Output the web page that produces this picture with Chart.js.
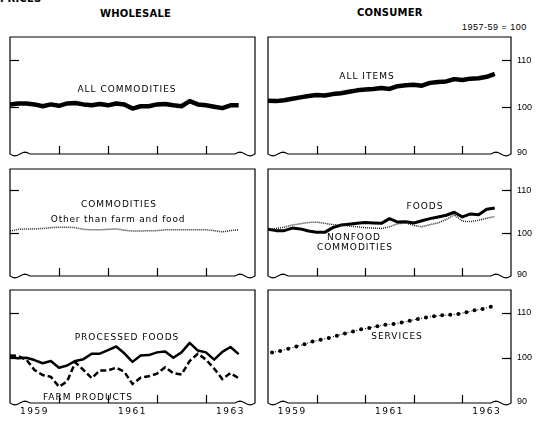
<!DOCTYPE html>
<html>
<head>
<meta charset="utf-8">
<script src="https://cdn.jsdelivr.net/npm/chart.js@4.4.1/dist/chart.umd.min.js"></script>
<style>
  body { margin: 0; background: #fff; width: 539px; height: 425px; overflow: hidden; position: relative; font-family: "DejaVu Sans", sans-serif; color: #000; }
  canvas { position: absolute; left: 0; top: 0; }
  .hd { position: absolute; font-weight: bold; font-size: 10px; letter-spacing: 0.2px; white-space: nowrap; }
  .base { position: absolute; font-size: 9px; letter-spacing: 0.5px; font-family: "Liberation Sans", sans-serif; white-space: nowrap; }
</style>
</head>
<body>
<div class="hd" style="left:0px; top:-7px;">PRICES</div>
<div class="hd" style="left:100px; top:8px;">WHOLESALE</div>
<div class="hd" style="left:357px; top:7px;">CONSUMER</div>
<div class="base" style="left:462px; top:22px;">1957-59 = 100</div>

<canvas id="c1" width="539" height="425"></canvas>
<canvas id="c2" width="539" height="425"></canvas>
<canvas id="c3" width="539" height="425"></canvas>
<canvas id="c4" width="539" height="425"></canvas>
<canvas id="c5" width="539" height="425"></canvas>
<canvas id="c6" width="539" height="425"></canvas>

<script>
// months counted from Jan 1959
const months = [0, 2, 4, 6, 8, 10, 12, 14, 16, 18, 20, 22, 24, 26, 28, 30, 32, 34, 36, 38, 40, 42, 44, 46, 48, 50, 52, 54, 56];
const servicesMonths = [1, 3, 5, 7, 9, 11, 13, 15, 17, 19, 21, 23, 25, 27, 29, 31, 33, 35, 37, 39, 41, 43, 45, 47, 49, 51, 53, 55];

// wholesale
const allCommodities = [100.6, 100.8, 100.8, 100.6, 100.2, 100.6, 100.3, 100.8, 100.9, 100.6, 100.4, 100.7, 100.4, 100.8, 100.6, 99.7, 100.2, 100.2, 100.6, 100.7, 100.4, 100.2, 101.3, 100.6, 100.4, 100.1, 99.8, 100.4, 100.4];
const otherCommodities = [100.5, 100.9, 101.0, 101.0, 101.1, 101.3, 101.4, 101.4, 101.3, 100.9, 100.8, 100.8, 100.9, 101.0, 100.7, 100.5, 100.5, 100.6, 100.6, 100.8, 100.8, 100.8, 100.8, 100.8, 100.8, 100.6, 100.3, 100.6, 100.8];
const processedFoods = [100.1, 99.9, 100.0, 99.5, 98.8, 99.3, 97.8, 98.3, 99.3, 99.7, 100.9, 100.9, 101.7, 102.5, 101.0, 99.1, 100.5, 100.6, 101.2, 101.4, 100.0, 101.2, 103.3, 101.6, 101.2, 99.6, 101.3, 102.4, 100.8];
const farmProducts = [100.5, 100.4, 99.6, 97.3, 96.2, 95.8, 93.6, 94.8, 99.0, 97.3, 95.5, 97.2, 97.2, 97.8, 96.9, 94.2, 95.6, 95.9, 96.5, 97.9, 96.6, 96.3, 99.3, 100.9, 99.6, 97.6, 95.3, 96.6, 95.5];

// consumer
const allItems = [101.4, 101.3, 101.5, 101.8, 102.1, 102.4, 102.6, 102.5, 102.8, 103.0, 103.3, 103.6, 103.8, 103.9, 104.1, 103.9, 104.5, 104.7, 104.8, 104.6, 105.2, 105.4, 105.5, 106.0, 105.8, 106.1, 106.2, 106.5, 107.1];
const foods = [100.9, 100.6, 100.6, 101.2, 101.0, 100.5, 100.2, 100.2, 101.3, 101.9, 102.1, 102.3, 102.5, 102.4, 102.3, 103.4, 102.6, 102.7, 102.4, 102.9, 103.4, 103.8, 104.2, 104.9, 103.8, 104.5, 104.3, 105.6, 105.9];
const nonfoodCommodities = [100.9, 101.1, 101.4, 101.9, 102.2, 102.5, 102.6, 102.3, 102.0, 101.9, 101.7, 101.5, 101.3, 101.2, 101.1, 101.5, 102.2, 102.4, 101.8, 101.5, 102.0, 102.4, 103.2, 104.3, 102.8, 102.7, 103.0, 103.5, 103.9];
const services = [101.2, 101.5, 102.0, 102.5, 103.0, 103.6, 104.0, 104.4, 104.9, 105.4, 105.8, 106.3, 106.6, 107.0, 107.3, 107.5, 107.8, 108.2, 108.6, 108.9, 109.2, 109.4, 109.5, 109.7, 110.1, 110.5, 110.8, 111.3];

// axis stuff
const yearTicks = [12, 24, 36, 48];
const yearLabels = ['1959', '1961', '1963'];
const yearLabelPos = [6, 30, 54];
const valueTicks = [110, 100, 90];

const W = 539, H = 425;
const cols = { L: { x: 10, w: 245 }, R: { x: 268, w: 243 } };
const rows = [{ y: 37, h: 117 }, { y: 169, h: 107 }, { y: 290, h: 113 }];

function pts(xs, ys) {
  return xs.map((m, i) => ({ x: m, y: ys[i] }));
}

// frame, wavy break, inside ticks, labels
const panelPlugin = {
  id: 'panel',
  afterDraw(chart, args, o) {
    const ctx = chart.ctx;
    const a = chart.chartArea;
    const xs = chart.scales.x, ys = chart.scales.y;
    ctx.save();
    ctx.strokeStyle = '#000';
    ctx.lineWidth = 1.2;

    // box with wavy bottom ends
    ctx.beginPath();
    ctx.moveTo(a.left + 20, a.bottom);
    ctx.lineTo(a.right - 20, a.bottom);
    for (let t = 0; t <= 20; t++) {
      ctx.lineTo(a.right - 20 + t, a.bottom - 1.8 * Math.sin(t / 10 * Math.PI));
    }
    ctx.lineTo(a.right, a.top);
    ctx.lineTo(a.left, a.top);
    ctx.lineTo(a.left, a.bottom);
    for (let t = 0; t <= 20; t++) {
      ctx.lineTo(a.left + t, a.bottom + 1.8 * Math.sin(t / 10 * Math.PI));
    }
    ctx.stroke();

    // year ticks on bottom, inside
    yearTicks.forEach(m => {
      const px = Math.round(xs.getPixelForValue(m)) + 0.5;
      ctx.beginPath();
      ctx.moveTo(px, a.bottom);
      ctx.lineTo(px, a.bottom - 8);
      ctx.stroke();
    });

    // value ticks on the side
    [110, 100].forEach(v => {
      const py = Math.round(ys.getPixelForValue(v)) + 0.5;
      ctx.beginPath();
      if (o.side === 'right') {
        ctx.moveTo(a.right - 9, py);
        ctx.lineTo(a.right, py);
      } else {
        ctx.moveTo(a.left, py);
        ctx.lineTo(a.left + 9, py);
      }
      ctx.stroke();
    });

    ctx.fillStyle = '#000';
    if (o.side === 'right') {
      ctx.font = '9px "Liberation Sans"';
      ctx.textAlign = 'left';
      ctx.textBaseline = 'middle';
      valueTicks.forEach(v => {
        ctx.fillText(String(v), a.right + 6, ys.getPixelForValue(v) - (v === 90 ? 1 : 0));
      });
    }
    if (o.yearLabels) {
      ctx.font = '9px "DejaVu Sans"';
      ctx.letterSpacing = '1.5px';
      ctx.textAlign = 'center';
      ctx.textBaseline = 'middle';
      yearLabels.forEach((t, i) => {
        ctx.fillText(t, xs.getPixelForValue(yearLabelPos[i]), a.bottom + 9);
      });
    }

    // series names
    ctx.textAlign = 'center';
    ctx.textBaseline = 'middle';
    (o.notes || []).forEach(n => {
      ctx.font = '9px "DejaVu Sans"';
      ctx.letterSpacing = n.sp || '1px';
      ctx.fillText(n.text, n.x, n.y);
    });
    ctx.restore();
  }
};

function makePanel(id, col, row, datasets, opts) {
  const c = cols[col], r = rows[row];
  new Chart(document.getElementById(id), {
    type: 'line',
    data: { datasets: datasets },
    options: {
      responsive: false,
      animation: false,
      events: [],
      layout: { padding: { left: c.x, top: r.y, right: W - c.x - c.w, bottom: H - r.y - r.h } },
      scales: {
        x: { type: 'linear', min: 0, max: 60, display: false },
        y: { min: 90, max: 115, display: false }
      },
      elements: { point: { radius: 0 }, line: { tension: 0 } },
      plugins: { legend: { display: false }, tooltip: { enabled: false }, panel: opts }
    },
    plugins: [panelPlugin]
  });
}

makePanel('c1', 'L', 0, [
  { data: pts(months, allCommodities), borderColor: '#000', borderWidth: 4.5, borderJoinStyle: 'round' }
], { side: 'left', notes: [{ text: 'ALL COMMODITIES', x: 127, y: 90 }] });

makePanel('c2', 'R', 0, [
  { data: pts(months, allItems), borderColor: '#000', borderWidth: 4.5, borderJoinStyle: 'round' }
], { side: 'right', notes: [{ text: 'ALL ITEMS', x: 367, y: 77 }] });

makePanel('c3', 'L', 1, [
  { data: pts(months, otherCommodities), borderColor: '#222', borderWidth: 1.5, borderDash: [1, 1] }
], { side: 'left', notes: [
  { text: 'COMMODITIES', x: 119, y: 205 },
  { text: 'Other than farm and food', x: 118, y: 220, sp: '0.8px' }
] });

makePanel('c4', 'R', 1, [
  { data: pts(months, nonfoodCommodities), borderColor: '#222', borderWidth: 1.5, borderDash: [1, 1] },
  { data: pts(months, foods), borderColor: '#000', borderWidth: 3, borderJoinStyle: 'round' }
], { side: 'right', notes: [
  { text: 'FOODS', x: 425, y: 207 },
  { text: 'NONFOOD', x: 354, y: 238 },
  { text: 'COMMODITIES', x: 355, y: 248 }
] });

makePanel('c5', 'L', 2, [
  { data: pts(months, farmProducts), borderColor: '#000', borderWidth: 2.5, borderDash: [6, 3] },
  { data: pts(months, processedFoods), borderColor: '#000', borderWidth: 2.5, borderJoinStyle: 'round' }
], { side: 'left', yearLabels: true, notes: [
  { text: 'PROCESSED FOODS', x: 127, y: 338 },
  { text: 'FARM PRODUCTS', x: 88, y: 398 }
] });

makePanel('c6', 'R', 2, [
  { data: pts(servicesMonths, services), borderColor: '#000', borderWidth: 1, borderDash: [1, 2],
    pointRadius: 2, pointBackgroundColor: '#000', pointBorderWidth: 0 }
], { side: 'right', yearLabels: true, notes: [{ text: 'SERVICES', x: 397, y: 337 }] });
</script>
</body>
</html>
